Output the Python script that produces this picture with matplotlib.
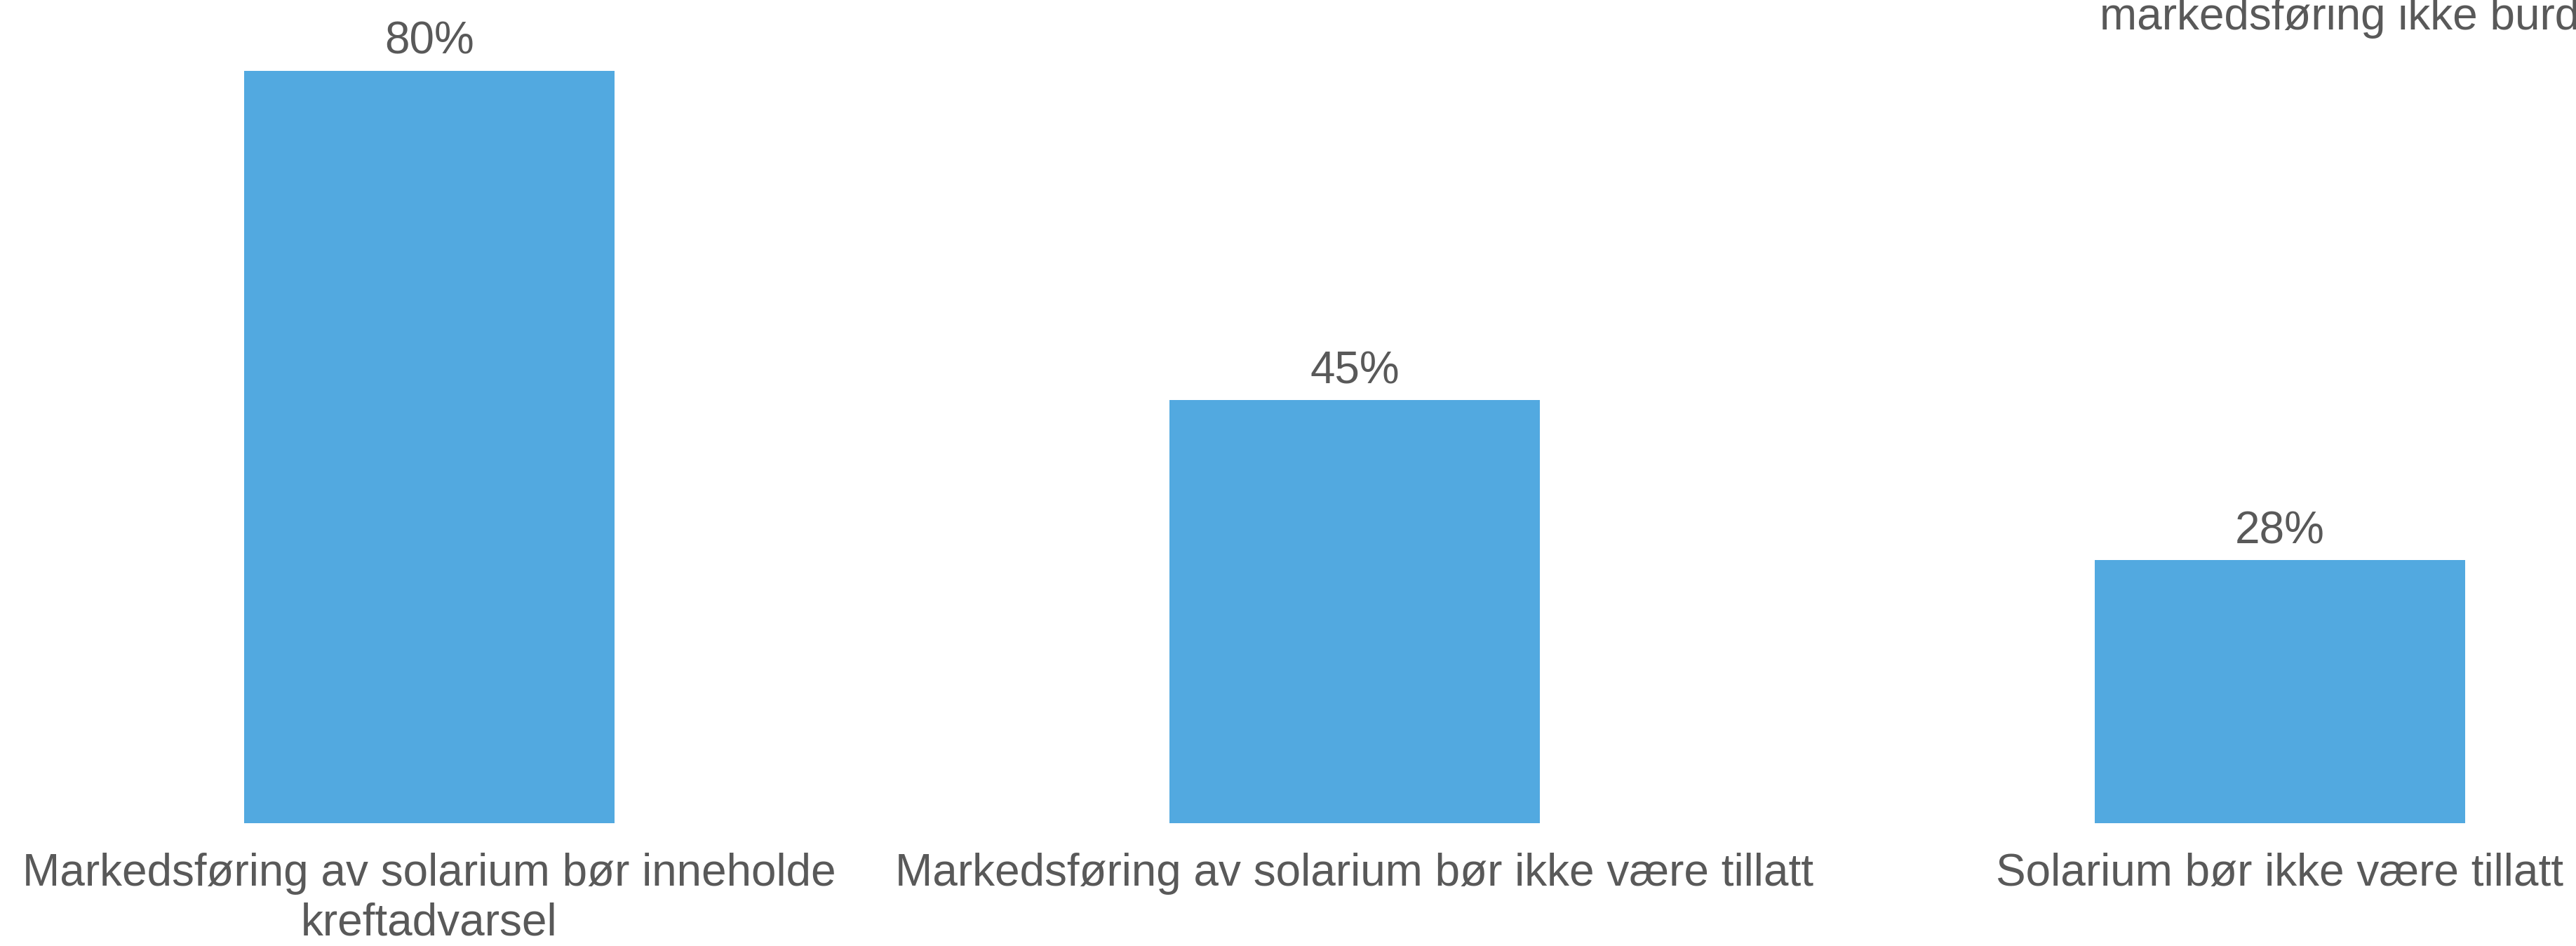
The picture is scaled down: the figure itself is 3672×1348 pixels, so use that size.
import matplotlib.pyplot as plt

# Andel som er enig i hvert utsagn (%)
utsagn = [
    "Markedsføring av solarium bør inneholde\nkreftadvarsel",
    "Markedsføring av solarium bør ikke være tillatt",
    "Solarium bør ikke være tillatt",
]
andel = [80, 45, 28]

plt.rcParams['font.family'] = ['Liberation Sans', 'DejaVu Sans']
tekstfarge = '#595959'
blaa = '#52A9E0'
fs = 46

fig = plt.figure(figsize=(36.72, 13.48), dpi=100)
ax = fig.add_axes([0, 0.1298, 1, 0.8702])

x = range(len(andel))
bars = ax.bar(x, andel, width=0.4, color=blaa)

for b, v in zip(bars, andel):
    ax.annotate(f"{v}%", (b.get_x() + b.get_width() / 2, v),
                xytext=(0, 17), textcoords='offset points',
                ha='center', va='baseline', fontsize=fs, color=tekstfarge)

ax.set_xlim(-0.464, 2.32)
ax.set_ylim(0, 87.5)
ax.set_xticks(list(x))
ax.set_xticklabels(utsagn, fontsize=fs, color=tekstfarge,
                   multialignment='center', linespacing=1.24)
ax.tick_params(axis='x', length=0, pad=30)
ax.set_yticks([])
for s in ax.spines.values():
    s.set_visible(False)

# tittelen er kuttet i høyre kant
fig.text(2993 / 3672, 1 - 42 / 1348, "markedsføring ikke burde",
         fontsize=fs, color=tekstfarge, ha='left', va='baseline')

fig.savefig('out.png', dpi=100)
